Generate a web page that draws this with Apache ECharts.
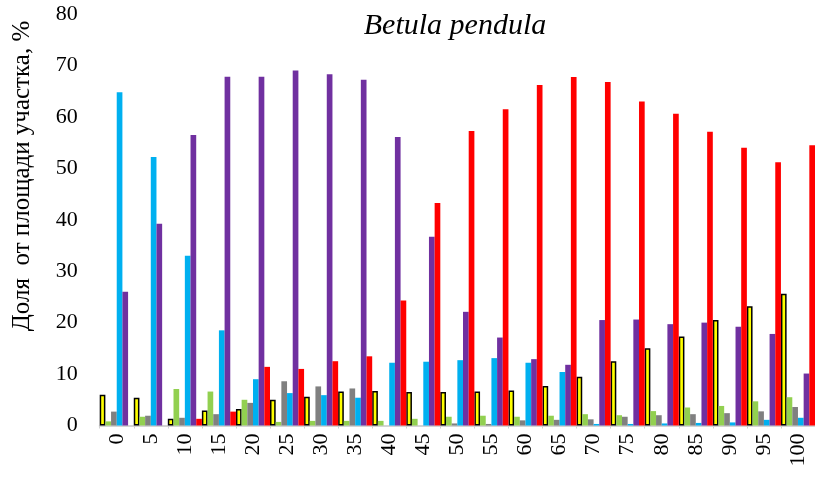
<!DOCTYPE html>
<html>
<head>
<meta charset="utf-8">
<script src="https://cdn.jsdelivr.net/npm/echarts@6/dist/echarts.min.js"></script>
<style>
  html, body { margin: 0; padding: 0; background: #fff; }
  #chart { width: 815px; height: 480px; }
</style>
</head>
<body>
<div id="chart"></div>
<script>
// Distance classes along the x axis
const categories = ['0','5','10','15','20','25','30','35','40','45','50','55','60','65','70','75','80','85','90','95','100'];

// Share of plot area, % — one array per class
const yellowVals = [6.0, 5.4, 1.3, 2.9, 3.2, 5.0, 5.6, 6.6, 6.7, 6.5, 6.5, 6.6, 6.8, 7.7, 9.5, 12.5, 15.0, 17.3, 20.5, 23.2, 25.6];
const greenVals  = [0.8, 1.7, 7.1, 6.6, 5.0, 0.7, 0.9, 0.9, 0.9, 1.3, 1.7, 1.9, 1.7, 1.9, 2.2, 2.0, 2.8, 3.5, 3.8, 4.7, 5.5];
const grayVals   = [2.7, 1.9, 1.5, 2.2, 4.4, 8.6, 7.6, 7.2, 0, 0, 0.4, 0.3, 1.0, 1.1, 1.2, 1.7, 2.0, 2.2, 2.4, 2.75, 3.6];
const blueVals   = [64.8, 52.2, 33.0, 18.5, 9.0, 6.3, 5.9, 5.4, 12.2, 12.4, 12.7, 13.1, 12.2, 10.4, 0.3, 0.3, 0.4, 0.5, 0.6, 1.1, 1.5];
const purpleVals = [26.0, 39.2, 56.5, 67.8, 67.8, 69.0, 68.3, 67.2, 56.1, 36.7, 22.1, 17.1, 12.9, 11.8, 20.5, 20.6, 19.7, 20.0, 19.2, 17.8, 10.1];
const redVals    = [0, 0, 1.3, 2.7, 11.4, 11.0, 12.5, 13.45, 24.3, 43.25, 57.25, 61.5, 66.2, 67.75, 66.8, 63.0, 60.6, 57.1, 54.0, 51.2, 54.5];

const yTicks = { min: 0, max: 80, interval: 10 };

const serif = '"Liberation Serif", "Times New Roman", serif';

function bar(name, data, color, border) {
  return {
    name: name,
    type: 'bar',
    data: data,
    barGap: '0%',
    barCategoryGap: '0%',
    itemStyle: border
      ? { color: color, borderColor: '#000', borderWidth: 1.5 }
      : { color: color },
    emphasis: { disabled: true }
  };
}

const chart = echarts.init(document.getElementById('chart'), null, { renderer: 'canvas' });
chart.setOption({
  animation: false,
  backgroundColor: '#ffffff',
  title: {
    text: 'Betula pendula',
    left: 450,
    top: 6,
    textAlign: 'center',
    textStyle: { fontFamily: serif, fontStyle: 'italic', fontWeight: 'normal', fontSize: 30, color: '#000' }
  },
  graphic: [{
    type: 'text',
    x: 22,
    y: 176,
    rotation: Math.PI / 2,
    style: {
      text: 'Доля  от площади участка, %',
      font: '25px ' + serif,
      fill: '#000',
      align: 'center',
      verticalAlign: 'middle'
    }
  }],
  grid: { left: 99.7, right: 0, top: 14, bottom: 54.5, containLabel: false },
  xAxis: {
    type: 'category',
    data: categories,
    axisLine: { show: true, lineStyle: { color: '#d4d4d4', width: 2 } },
    axisTick: { show: true, length: 3, lineStyle: { color: '#cfcfcf' } },
    axisLabel: { interval: 0, rotate: 90, margin: 8, fontFamily: serif, fontSize: 22, color: '#000' },
    splitLine: { show: false }
  },
  yAxis: {
    type: 'value',
    min: yTicks.min,
    max: yTicks.max,
    interval: yTicks.interval,
    axisLine: { show: false },
    axisTick: { show: false },
    splitLine: { show: false },
    axisLabel: { margin: 22, fontFamily: serif, fontSize: 22, color: '#000' }
  },
  series: [
    bar('yellow', yellowVals, '#FFFF00', true),
    bar('green', greenVals, '#92D050'),
    bar('gray', grayVals, '#808080'),
    bar('blue', blueVals, '#00B0F0'),
    bar('purple', purpleVals, '#7030A0'),
    bar('red', redVals, '#FF0000')
  ]
});
</script>
</body>
</html>
